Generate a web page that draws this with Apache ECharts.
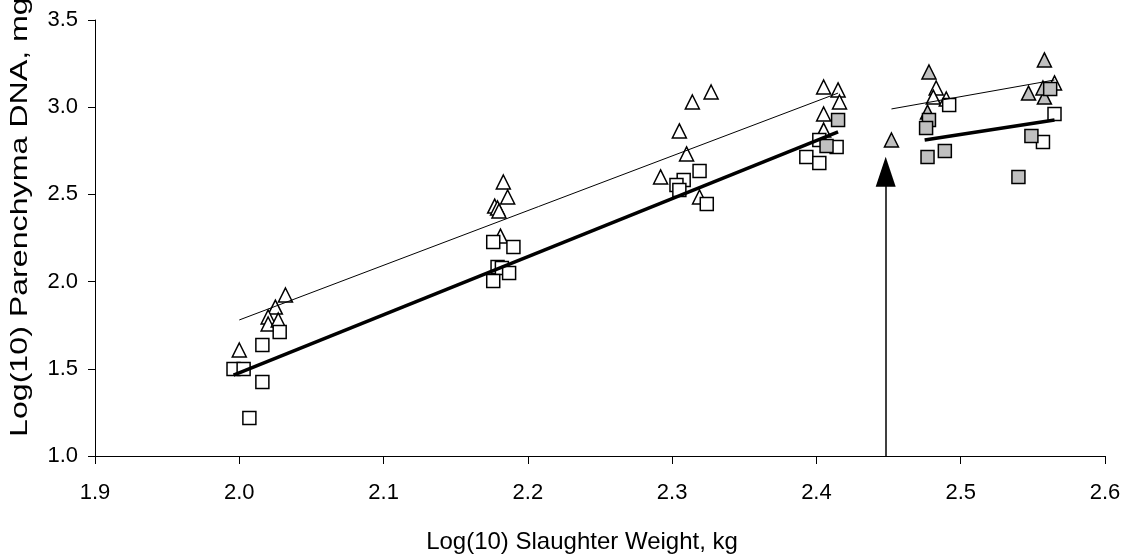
<!DOCTYPE html>
<html>
<head>
<meta charset="utf-8">
<script src="https://cdn.jsdelivr.net/npm/echarts@6/dist/echarts.min.js"></script>
<style>
html,body{margin:0;padding:0;background:#fff;}
#c{width:1128px;height:560px;}
</style>
</head>
<body>
<div id="c"></div>
<script>
// Axis ticks
const xTicks = [1.9, 2.0, 2.1, 2.2, 2.3, 2.4, 2.5, 2.6];
const yTicks = [1.0, 1.5, 2.0, 2.5, 3.0, 3.5];
const xTitle = 'Log(10) Slaughter Weight, kg';
const yTitle = 'Log(10) Parenchyma DNA, mg';

// Open triangles [log weight, log DNA]
const openTriangles = [
  [2.032, 1.923], [2.025, 1.854], [2.020, 1.797], [2.020, 1.757], [2.027, 1.780], [2.000, 1.608],
  [2.183, 2.571], [2.186, 2.485], [2.177, 2.433], [2.179, 2.422], [2.180, 2.405], [2.181, 2.261],
  [2.327, 3.087], [2.314, 3.030], [2.305, 2.864], [2.310, 2.732], [2.292, 2.600], [2.319, 2.485],
  [2.405, 3.116], [2.415, 3.099], [2.416, 3.030], [2.405, 2.961], [2.405, 2.869],
  [2.483, 3.110], [2.481, 3.058], [2.490, 3.047], [2.565, 3.139]
];
// Open squares
const openSquares = [
  [2.016, 1.636], [2.028, 1.711], [1.996, 1.499], [2.003, 1.499], [2.016, 1.424], [2.007, 1.218],
  [2.176, 2.227], [2.190, 2.198], [2.179, 2.084], [2.182, 2.078], [2.187, 2.049], [2.176, 2.003],
  [2.319, 2.634], [2.308, 2.583], [2.303, 2.554], [2.305, 2.525], [2.324, 2.445],
  [2.402, 2.812], [2.414, 2.772], [2.393, 2.714], [2.402, 2.680],
  [2.492, 3.013], [2.565, 2.961], [2.557, 2.800]
];
// Grey triangles
const greyTriangles = [
  [2.452, 2.812], [2.478, 3.202], [2.477, 2.972],
  [2.558, 3.271], [2.547, 3.081], [2.558, 3.058], [2.557, 3.110]
];
// Grey squares
const greySquares = [
  [2.415, 2.927], [2.407, 2.778],
  [2.478, 2.927], [2.476, 2.881], [2.489, 2.749], [2.477, 2.714],
  [2.562, 3.104], [2.549, 2.835], [2.540, 2.600]
];
// Fitted lines
const triFitEarly = [[2.000, 1.780], [2.415, 3.081]];
const sqFitEarly = [[1.996, 1.464], [2.415, 2.858]];
const triFitLate = [[2.452, 2.990], [2.565, 3.156]];
const sqFitLate = [[2.475, 2.812], [2.565, 2.927]];
// Arrow marker
const arrowLine = [[2.448, 1.0], [2.448, 2.63]];

const FONT = "'Liberation Sans', Arial, sans-serif";
const chart = echarts.init(document.getElementById('c'), null, {renderer: 'canvas'});

function markers(name, data, symbol, size, fill) {
  return {
    name, type: 'scatter', data, symbol, symbolSize: size, z: 3,
    itemStyle: {color: fill, borderColor: '#000', borderWidth: 1.5, opacity: 1},
    emphasis: {disabled: true}
  };
}
function fitLine(name, data, width) {
  return {
    name, type: 'line', data, symbol: 'none', z: 4,
    lineStyle: {color: '#000', width: width}, emphasis: {disabled: true}
  };
}

chart.setOption({
  animation: false,
  backgroundColor: '#fff',
  grid: {left: 95, right: 23, top: 20, bottom: 104, containLabel: false},
  xAxis: {
    type: 'value', min: xTicks[0], max: xTicks[xTicks.length - 1], interval: 0.1,
    axisLine: {onZero: false, lineStyle: {color: '#000', width: 1}},
    axisTick: {show: true, inside: false, length: 8, lineStyle: {color: '#000'}},
    splitLine: {show: false},
    axisLabel: {color: '#000', fontSize: 22, fontFamily: FONT, margin: 26,
      formatter: v => Number(v).toFixed(1)},
    name: xTitle, nameLocation: 'middle', nameGap: 74,
    nameTextStyle: {color: '#000', fontSize: 24, fontFamily: FONT, padding: [0, 36, 0, 0]}
  },
  yAxis: {
    type: 'value', min: yTicks[0], max: yTicks[yTicks.length - 1], interval: 0.5,
    axisLine: {show: true, onZero: false, lineStyle: {color: '#000', width: 1}},
    axisTick: {show: true, inside: false, length: 7, lineStyle: {color: '#000'}},
    splitLine: {show: false},
    axisLabel: {color: '#000', fontSize: 22, fontFamily: FONT, margin: 17,
      formatter: v => Number(v).toFixed(1)}
  },
  graphic: [{
    type: 'text', x: 20, y: 437, rotation: Math.PI / 2, scaleX: 1.34, scaleY: 1,
    style: {text: yTitle, font: '24px ' + FONT, fill: '#000', align: 'left', verticalAlign: 'middle'}
  }],
  series: [
    fitLine('Triangle fit (early)', triFitEarly, 1),
    fitLine('Square fit (early)', sqFitEarly, 3.5),
    fitLine('Triangle fit (late)', triFitLate, 1),
    fitLine('Square fit (late)', sqFitLate, 3.5),
    markers('Open triangles', openTriangles, 'triangle', 14, '#fff'),
    markers('Open squares', openSquares, 'rect', 13, '#fff'),
    markers('Grey triangles', greyTriangles, 'triangle', 14, '#c0c0c0'),
    markers('Grey squares', greySquares, 'rect', 13, '#c0c0c0'),
    {
      name: 'Arrow', type: 'line', data: [], symbol: 'none',
      markLine: {
        silent: true, symbol: ['none', 'triangle'], symbolSize: [20, 30],
        lineStyle: {color: '#000', width: 1.5, type: 'solid'}, label: {show: false},
        data: [[{coord: arrowLine[0]}, {coord: arrowLine[1]}]]
      }
    }
  ]
});
</script>
</body>
</html>
